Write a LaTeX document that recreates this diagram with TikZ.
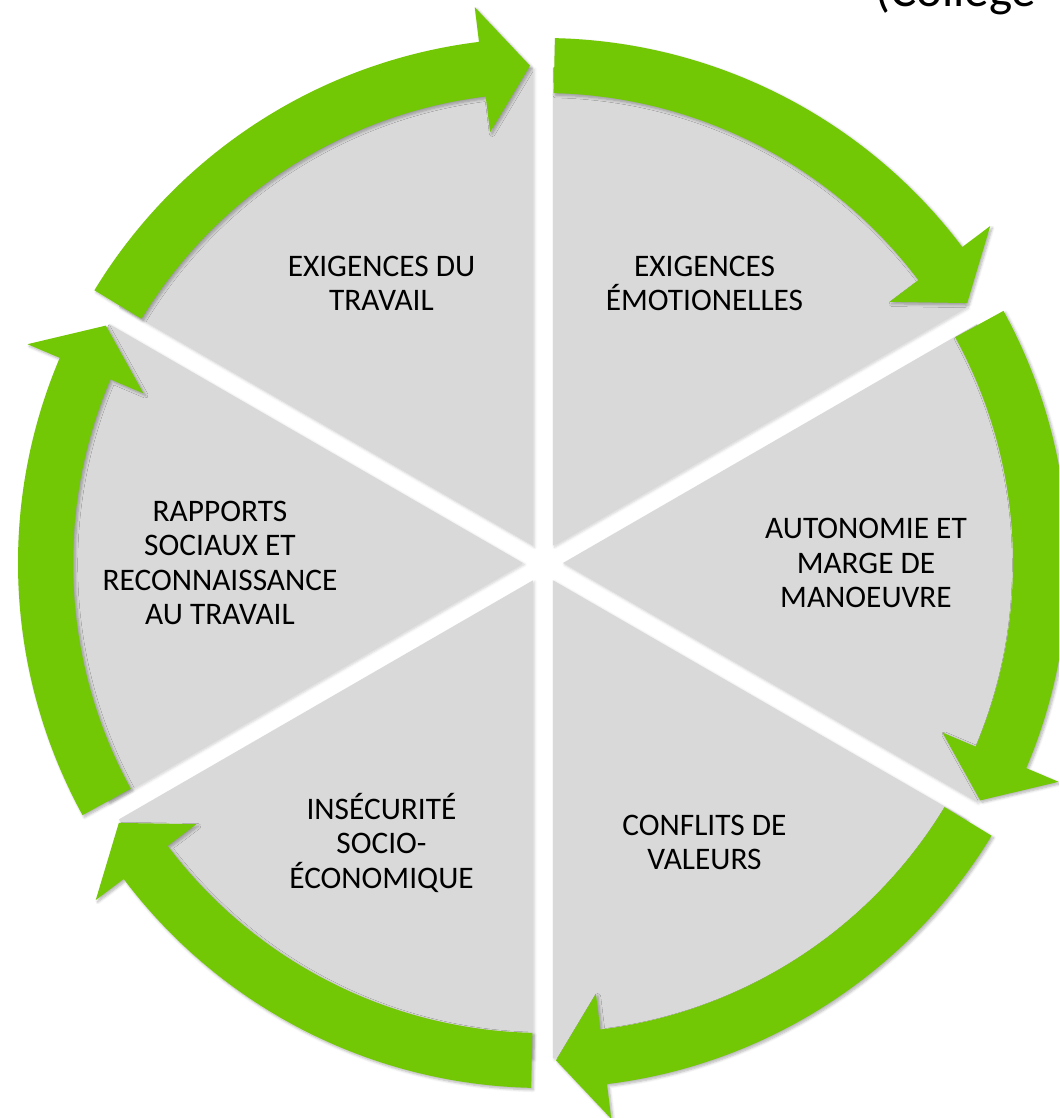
\documentclass[tikz,border=0pt]{standalone}
\usepackage{fontspec}
\setmainfont{Carlito}
\usetikzlibrary{shadows.blur}
\definecolor{arrowgreen}{RGB}{114,200,4}
\definecolor{wedgegrey}{RGB}{217,217,217}
\begin{document}
\begin{tikzpicture}[x=0.025cm, y=0.025cm,
    wedge/.style={fill=wedgegrey, blur shadow={shadow xshift=0.4mm, shadow yshift=-0.4mm, shadow opacity=18, shadow blur steps=5}},
    cyclearrow/.style={fill=arrowgreen, blur shadow={shadow xshift=0.5mm, shadow yshift=-0.5mm, shadow opacity=30, shadow blur steps=6}},
    factor/.style={align=center, font=\fontsize{22.3}{24.4}\selectfont}]
  \useasboundingbox (-543,-555) rectangle (516,563);
  \clip (-543,-555) rectangle (516,563);

  % Wedges
  \foreach \b in {0,60,...,300}
    \fill[wedge, shift={(\b:20)}] (0,0) -- (\b-30:478) arc[start angle=\b-30, end angle=\b+30, radius=478] -- cycle;

  % Arrows
  \foreach \g in {90,30,-30,-90,-150,-210} {
    \pgfmathsetmacro{\s}{\g+58.7}
    \pgfmathsetmacro{\h}{\g+7}
    \pgfmathsetmacro{\t}{\g+1.5}
    \fill[cyclearrow] (\s:525) arc[start angle=\s, end angle=\h, radius=525]
      -- (\h:560) -- (\t:497.5) -- (\h:434) -- (\h:470)
      arc[start angle=\h, end angle=\s, radius=470] -- cycle;
  }

  % Labels
  \node[factor] (travail) at (120:323) {EXIGENCES DU\\TRAVAIL};
  \node[factor] (emotions) at (60:323) {EXIGENCES\\ÉMOTIONELLES};
  \node[factor] (autonomie) at (0:323) {AUTONOMIE ET\\MARGE DE\\MANOEUVRE};
  \node[factor] (valeurs) at (-60:323) {CONFLITS DE\\VALEURS};
  \node[factor] (insecurite) at (-120:323) {INSÉCURITÉ\\SOCIO-\\ÉCONOMIQUE};
  \node[factor] (rapports) at (180:323) {RAPPORTS\\SOCIAUX ET\\RECONNAISSANCE\\AU TRAVAIL};

  % Source, cut by the top edge
  \node[anchor=base west, inner sep=0pt, font=\fontsize{34.9}{40}\selectfont] (college) at (332,556) {(Collège};
\end{tikzpicture}
\end{document}
